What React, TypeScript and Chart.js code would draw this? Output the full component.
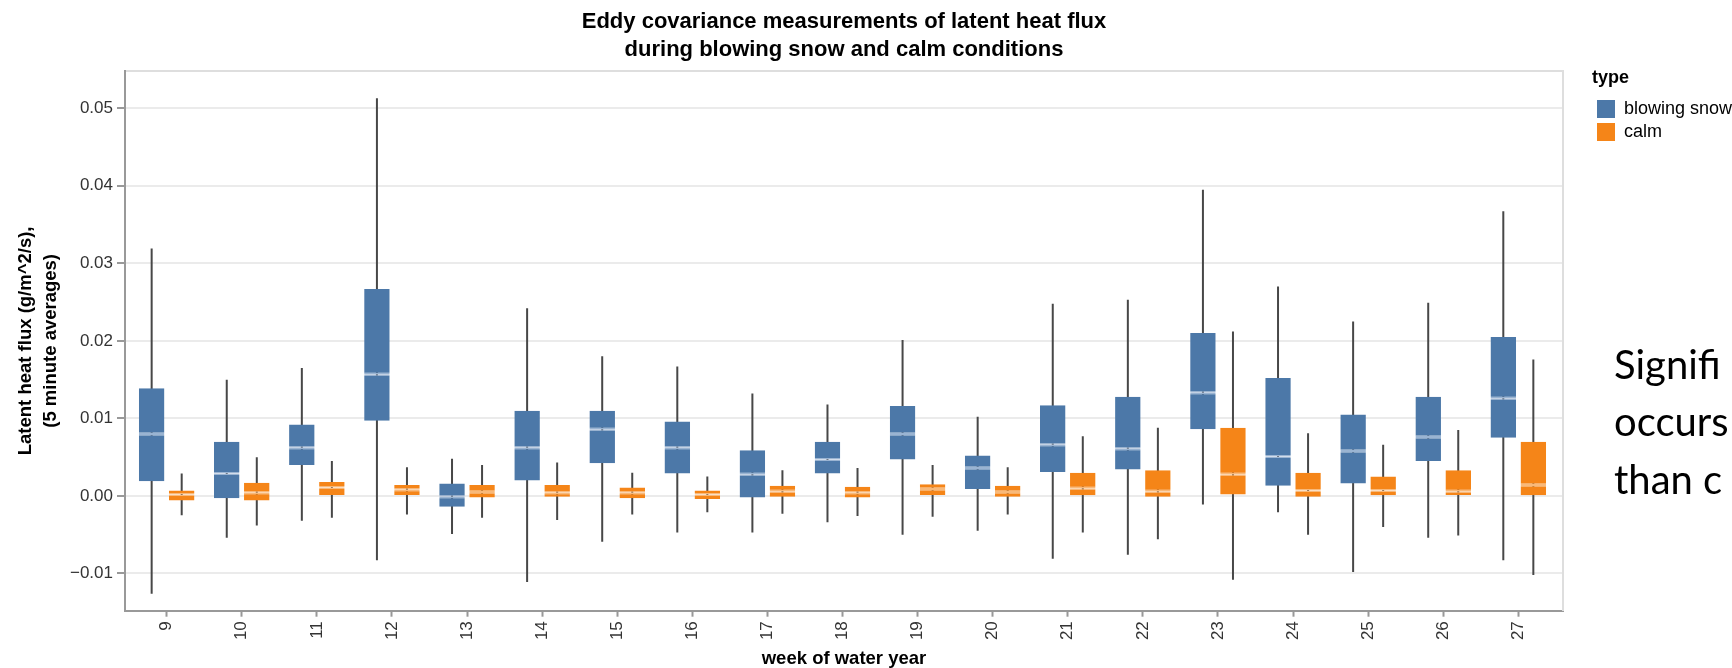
import { useEffect, useRef } from 'react';
import { Chart, registerables } from 'chart.js';

Chart.register(...registerables);

// ---------- data ----------
const weeks = [9, 10, 11, 12, 13, 14, 15, 16, 17, 18, 19, 20, 21, 22, 23, 24, 25, 26, 27];

const blowMax = [0.0319, 0.0150, 0.0165, 0.0513, 0.0048, 0.0242, 0.0180, 0.0167, 0.0132, 0.0118, 0.0201, 0.0102, 0.0248, 0.0253, 0.0395, 0.0270, 0.0225, 0.0249, 0.0367];
const blowQ3 = [0.0139, 0.0070, 0.0092, 0.0267, 0.0016, 0.0110, 0.0110, 0.0096, 0.0059, 0.0070, 0.0116, 0.0052, 0.0117, 0.0128, 0.0210, 0.0152, 0.0105, 0.0128, 0.0205];
const blowMedian = [0.0080, 0.0029, 0.0062, 0.0157, -0.0001, 0.0062, 0.0086, 0.0062, 0.0028, 0.0047, 0.0080, 0.0036, 0.0066, 0.0061, 0.0133, 0.0051, 0.0058, 0.0076, 0.0126];
const blowQ1 = [0.0019, -0.0003, 0.0040, 0.0097, -0.0014, 0.0020, 0.0042, 0.0029, -0.0002, 0.0029, 0.0047, 0.0009, 0.0031, 0.0034, 0.0086, 0.0013, 0.0016, 0.0045, 0.0075];
const blowMin = [-0.0126, -0.0054, -0.0032, -0.0083, -0.0049, -0.0111, -0.0059, -0.0047, -0.0047, -0.0034, -0.0050, -0.0045, -0.0081, -0.0076, -0.0011, -0.0021, -0.0098, -0.0054, -0.0083];

const calmMax = [0.0029, 0.0050, 0.0045, 0.0037, 0.0040, 0.0043, 0.0030, 0.0025, 0.0033, 0.0036, 0.0040, 0.0037, 0.0077, 0.0088, 0.0212, 0.0081, 0.0066, 0.0085, 0.0176];
const calmQ3 = [0.0007, 0.0017, 0.0018, 0.0014, 0.0014, 0.0014, 0.0011, 0.0007, 0.0013, 0.0012, 0.0015, 0.0013, 0.0030, 0.0033, 0.0088, 0.0030, 0.0025, 0.0033, 0.0070];
const calmMedian = [0.0002, 0.0004, 0.0011, 0.0008, 0.0005, 0.0004, 0.0004, 0.0002, 0.0006, 0.0004, 0.0009, 0.0005, 0.0010, 0.0006, 0.0028, 0.0007, 0.0007, 0.0006, 0.0014];
const calmQ1 = [-0.0006, -0.0006, 0.0000, 0.0000, -0.0002, -0.0001, -0.0003, -0.0004, -0.0001, -0.0002, 0.0000, -0.0001, 0.0001, -0.0001, 0.0002, -0.0001, 0.0001, 0.0000, 0.0001];
const calmMin = [-0.0025, -0.0038, -0.0028, -0.0024, -0.0028, -0.0031, -0.0024, -0.0021, -0.0023, -0.0026, -0.0027, -0.0024, -0.0047, -0.0056, -0.0108, -0.0050, -0.0040, -0.0051, -0.0102];

const yTickValues = [-0.01, 0, 0.01, 0.02, 0.03, 0.04, 0.05];
const seriesNames = ['blowing snow', 'calm'];

const titleLines = ['Eddy covariance measurements of latent heat flux', 'during blowing snow and calm conditions'];
const yTitleLines = ['Latent heat flux (g/m^2/s),', '(5 minute averages)'];
const xTitle = 'week of water year';
const sideText = ['Signifi', 'occurs', 'than c'];

// ---------- styles ----------
const FONT = "'Liberation Sans', Arial, Helvetica, sans-serif";
const BLUE = '#4c78a8';
const ORANGE = '#f58518';
const BLUE_MED = '#9ab4d2';
const ORANGE_MED = '#f8b97a';
const WHISKER = '#474747';
const CAT_PCT = 0.8;
const BAR_PCT = 0.85;

function pairs(a: number[], b: number[]) {
  return weeks.map((w, i) => ({ x: w, y: [a[i], b[i]] }));
}

export default function App() {
  const ref = useRef<HTMLCanvasElement | null>(null);

  useEffect(() => {
    if (!ref.current) return;
    const boxCommon = {
      categoryPercentage: CAT_PCT,
      barPercentage: BAR_PCT,
      borderSkipped: false as const,
    };
    const chart = new Chart(ref.current, {
      type: 'bar',
      data: {
        datasets: [
          {
            label: seriesNames[0], stack: 'b', data: pairs(blowQ1, blowMedian) as any,
            backgroundColor: BLUE, borderColor: BLUE_MED,
            borderWidth: { top: 1.5, right: 0, bottom: 0, left: 0 }, ...boxCommon,
          },
          {
            label: seriesNames[0] + ' upper', stack: 'b', data: pairs(blowMedian, blowQ3) as any,
            backgroundColor: BLUE, borderColor: BLUE_MED,
            borderWidth: { top: 0, right: 0, bottom: 1.5, left: 0 }, ...boxCommon,
          },
          {
            label: seriesNames[1], stack: 'o', data: pairs(calmQ1, calmMedian) as any,
            backgroundColor: ORANGE, borderColor: ORANGE_MED,
            borderWidth: { top: 1.5, right: 0, bottom: 0, left: 0 }, ...boxCommon,
          },
          {
            label: seriesNames[1] + ' upper', stack: 'o', data: pairs(calmMedian, calmQ3) as any,
            backgroundColor: ORANGE, borderColor: ORANGE_MED,
            borderWidth: { top: 0, right: 0, bottom: 1.5, left: 0 }, ...boxCommon,
          },
          {
            label: seriesNames[0] + ' whisker', stack: 'b', data: pairs(blowMin, blowMax) as any,
            backgroundColor: WHISKER, borderWidth: 0, maxBarThickness: 2, ...boxCommon,
          },
          {
            label: seriesNames[1] + ' whisker', stack: 'o', data: pairs(calmMin, calmMax) as any,
            backgroundColor: WHISKER, borderWidth: 0, maxBarThickness: 2, ...boxCommon,
          },
        ],
      },
      options: {
        animation: false,
        responsive: false,
        devicePixelRatio: 1,
        layout: { padding: 0 },
        scales: {
          x: {
            type: 'linear',
            position: 'bottom',
            min: 8.445,
            max: 27.595,
            offset: false,
            stacked: true,
            afterBuildTicks: (s: any) => { s.ticks = weeks.map((v) => ({ value: v })); },
            afterFit: (s: any) => { s.height = 57.3; },
            ticks: {
              autoSkip: false,
              minRotation: 90,
              maxRotation: 90,
              padding: 4.5,
              color: '#333',
              font: { family: FONT, size: 17 },
              callback: (v: any) => String(v),
            },
            grid: {
              display: true,
              drawOnChartArea: false,
              drawTicks: true,
              tickLength: 6,
              tickColor: '#999',
              tickWidth: 2,
              offset: false,
            },
            border: { display: true, color: '#999', width: 2 },
            title: {
              display: true,
              text: xTitle,
              color: '#000',
              font: { family: FONT, size: 18.5, weight: 'bold', lineHeight: 1 },
              padding: { top: 0, bottom: 0 },
            },
          },
          x2: {
            type: 'linear',
            position: 'top',
            display: true,
            afterFit: (s: any) => { s.height = 0; },
            ticks: { display: false },
            grid: { display: true, drawOnChartArea: false, drawTicks: false },
            border: { display: true, color: '#dedede', width: 2 },
          },
          y: {
            type: 'linear',
            position: 'left',
            min: -0.0148,
            max: 0.0548,
            stacked: false,
            afterBuildTicks: (s: any) => { s.ticks = yTickValues.map((v) => ({ value: v })); },
            afterFit: (s: any) => { s.width = 125; },
            ticks: {
              padding: 4,
              color: '#333',
              font: { family: FONT, size: 17 },
              callback: (v: any) => {
                const n = Number(v);
                if (Math.abs(n) < 1e-9) return '0.00';
                return (n < 0 ? '\u2212' : '') + Math.abs(n).toFixed(2);
              },
            },
            grid: {
              display: true,
              drawOnChartArea: true,
              color: '#ebebeb',
              lineWidth: 2,
              drawTicks: true,
              tickLength: 8,
              tickColor: '#999',
              tickWidth: 2,
            },
            border: { display: true, color: '#999', width: 2 },
            title: {
              display: true,
              text: yTitleLines,
              color: '#000',
              font: { family: FONT, size: 18.5, weight: 'bold', lineHeight: 1.35 },
              padding: { top: 13.3, bottom: 0 },
            },
          },
          y2: {
            type: 'linear',
            position: 'right',
            display: true,
            afterFit: (s: any) => { s.width = 29; },
            ticks: { display: false },
            grid: { display: true, drawOnChartArea: false, drawTicks: false },
            border: { display: true, color: '#dedede', width: 2 },
          },
        },
        plugins: {
          title: {
            display: true,
            text: titleLines,
            fullSize: false,
            color: '#000',
            font: { family: FONT, size: 22, weight: 'bold', lineHeight: 1.273 },
            padding: { top: 8, bottom: 7 },
          },
          legend: {
            display: true,
            position: 'right',
            align: 'start',
            fullSize: true,
            maxWidth: 140,
            title: {
              display: true,
              text: 'type',
              color: '#000',
              position: 'start',
              font: { family: FONT, size: 18, weight: 'bold', lineHeight: 1.2 },
              padding: { top: 69.2, bottom: 4.2 },
            } as any,
            labels: {
              boxWidth: 18,
              boxHeight: 18,
              padding: 5,
              color: '#444',
              font: { family: FONT, size: 18 },
              generateLabels: () => [
                { text: seriesNames[0], fillStyle: BLUE, strokeStyle: BLUE, lineWidth: 0, datasetIndex: 0, hidden: false },
                { text: seriesNames[1], fillStyle: ORANGE, strokeStyle: ORANGE, lineWidth: 0, datasetIndex: 2, hidden: false },
              ] as any,
            },
          },
          tooltip: { enabled: false },
        },
      } as any,
    });
    return () => chart.destroy();
  }, []);

  return (
    <div style={{ position: 'fixed', left: 0, top: 0, width: 1732, height: 668, overflow: 'hidden', background: '#fff' }}>
      <canvas ref={ref} width={1732} height={668} style={{ position: 'absolute', left: 0, top: 0, width: 1732, height: 668 }} />
      <div
        style={{
          position: 'absolute',
          left: 1614,
          top: 335.8,
          fontFamily: "Lato, 'Open Sans', sans-serif",
          fontSize: 40,
          lineHeight: '57.5px',
          color: '#000',
          whiteSpace: 'nowrap',
        }}
      >
        {sideText.map((t, i) => (
          <div key={i}>{t}</div>
        ))}
      </div>
    </div>
  );
}
